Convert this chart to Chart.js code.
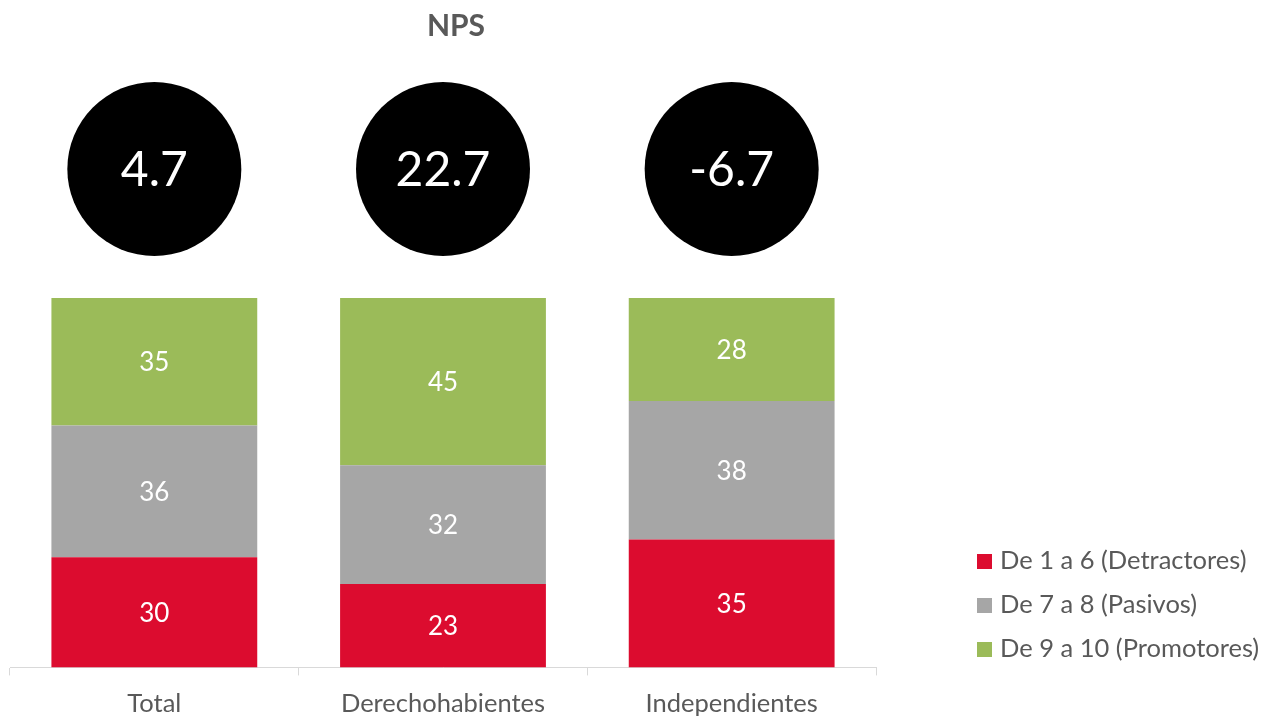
<!DOCTYPE html>
<html lang="es">
<head>
  <meta charset="UTF-8" />
  <title>NPS</title>
  <script src="https://cdn.jsdelivr.net/npm/chart.js"></script>
  <style>
    body {
      margin: 0;
      background: #ffffff;
      font-family: Lato, sans-serif;
      overflow: hidden;
    }
    .wrap {
      position: relative;
      width: 1268px;
      height: 717px;
      overflow: hidden;
    }
    canvas {
      display: block;
    }
    .legend {
      position: absolute;
      left: 977px;
      top: 537px;
      color: #595959;
      font-size: 25.5px;
    }
    .legend div {
      height: 44px;
      line-height: 44px;
      white-space: nowrap;
    }
    .legend span {
      display: inline-block;
      width: 15px;
      height: 15px;
      margin-right: 8px;
      vertical-align: 0px;
    }
  </style>
</head>
<body>
  <div class="wrap">
    <canvas id="chart" width="1268" height="732"></canvas>
    <div class="legend" id="legend"></div>
  </div>

  <script>
    // === data ===
    const categories = ["Total", "Derechohabientes", "Independientes"];
    const detractores = [29.8, 22.6, 34.6];
    const pasivos = [35.7, 32.1, 37.5];
    const promotores = [34.5, 45.3, 27.9];
    const npsValues = [4.7, 22.7, -6.7];
    const seriesNames = ["De 1 a 6 (Detractores)", "De 7 a 8 (Pasivos)", "De 9 a 10 (Promotores)"];
    const seriesColors = ["#DC0C2F", "#A6A6A6", "#9BBB59"];

    // === labels in bars, NPS circles, title ===
    const extras = {
      id: "extras",
      afterDatasetsDraw(chart) {
        const ctx = chart.ctx;
        ctx.save();
        ctx.textAlign = "center";
        ctx.textBaseline = "middle";

        // values inside bars
        ctx.fillStyle = "#ffffff";
        ctx.font = "26px Lato";
        chart.data.datasets.forEach((ds, di) => {
          chart.getDatasetMeta(di).data.forEach((bar, i) => {
            const mid = (bar.y + bar.base) / 2;
            ctx.fillText(Math.round(ds.data[i]).toString(), bar.x, mid + 1);
          });
        });

        // NPS circles
        const xs = chart.scales.x;
        npsValues.forEach((v, i) => {
          const cx = xs.getPixelForValue(i);
          ctx.beginPath();
          ctx.arc(cx, 169, 87, 0, Math.PI * 2);
          ctx.fillStyle = "#000000";
          ctx.fill();
          ctx.fillStyle = "#ffffff";
          ctx.font = "48px Lato";
          ctx.fillText(v.toFixed(1), cx, 171);
        });

        // title
        ctx.fillStyle = "#595959";
        ctx.font = "bold 30px Lato";
        ctx.fillText("NPS", 456, 26);
        ctx.restore();
      }
    };

    const ctx = document.getElementById("chart").getContext("2d");
    const chart = new Chart(ctx, {
      type: "bar",
      data: {
        labels: categories,
        datasets: [
          { label: seriesNames[0], data: detractores, backgroundColor: seriesColors[0] },
          { label: seriesNames[1], data: pasivos, backgroundColor: seriesColors[1] },
          { label: seriesNames[2], data: promotores, backgroundColor: seriesColors[2] }
        ]
      },
      options: {
        responsive: false,
        animation: false,
        layout: {
          padding: { left: 10, right: 392, top: 298, bottom: 0 }
        },
        datasets: {
          bar: { categoryPercentage: 1, barPercentage: 0.713 }
        },
        plugins: {
          legend: { display: false },
          title: { display: false },
          tooltip: { enabled: false }
        },
        scales: {
          x: {
            stacked: true,
            grid: {
              offset: true,
              drawOnChartArea: false,
              drawTicks: true,
              tickLength: 8,
              color: "#D9D9D9"
            },
            border: { color: "#D9D9D9", width: 1 },
            ticks: {
              color: "#595959",
              font: { family: "Lato", size: 25.5 },
              padding: 13
            }
          },
          y: {
            stacked: true,
            display: false,
            min: 0,
            max: 100
          }
        }
      },
      plugins: [extras]
    });

    // === HTML legend ===
    document.getElementById("legend").innerHTML = seriesNames
      .map((n, i) => `<div><span style="background:${seriesColors[i]}"></span>${n}</div>`)
      .join("");
  </script>
</body>
</html>
